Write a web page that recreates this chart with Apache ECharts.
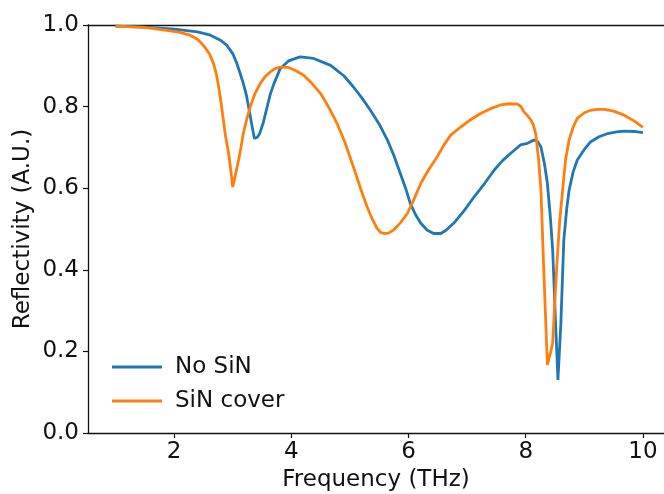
<!DOCTYPE html>
<html>
<head>
<meta charset="utf-8">
<script src="https://cdn.jsdelivr.net/npm/echarts@6.0.0/dist/echarts.min.js"></script>
<style>
html,body{margin:0;padding:0;background:#fff;}
#chart{width:664px;height:494px;}
</style>
</head>
<body>
<div id="chart"></div>
<script>
const seriesNames = ['No SiN', 'SiN cover'];
const xTicks = [2, 4, 6, 8, 10];
const yTicks = [0.0, 0.2, 0.4, 0.6, 0.8, 1.0];

const noSiNFreq = [1.0, 1.5, 2.0, 2.4, 2.62, 2.8, 2.9, 3.0, 3.07, 3.13, 3.18, 3.23, 3.27, 3.32, 3.37, 3.42, 3.46, 3.52, 3.58, 3.64, 3.70, 3.81, 3.95, 4.15, 4.38, 4.67, 4.9, 5.06, 5.2, 5.35, 5.5, 5.64, 5.75, 5.86, 5.95, 6.03, 6.12, 6.21, 6.32, 6.43, 6.55, 6.64, 6.77, 6.95, 7.12, 7.3, 7.46, 7.6, 7.74, 7.91, 8.03, 8.14, 8.2, 8.26, 8.32, 8.37, 8.42, 8.46, 8.51, 8.55, 8.60, 8.65, 8.70, 8.74, 8.81, 8.88, 9.0, 9.11, 9.25, 9.40, 9.55, 9.68, 9.85, 10.0];
const noSiNRefl = [0.997, 0.995, 0.990, 0.983, 0.975, 0.962, 0.950, 0.930, 0.906, 0.88, 0.857, 0.83, 0.80, 0.76, 0.722, 0.725, 0.734, 0.76, 0.795, 0.83, 0.855, 0.893, 0.912, 0.922, 0.918, 0.901, 0.875, 0.848, 0.822, 0.791, 0.757, 0.718, 0.68, 0.636, 0.60, 0.563, 0.535, 0.514, 0.497, 0.489, 0.489, 0.497, 0.514, 0.545, 0.579, 0.612, 0.644, 0.667, 0.685, 0.706, 0.710, 0.718, 0.715, 0.701, 0.66, 0.612, 0.53, 0.449, 0.269, 0.130, 0.269, 0.473, 0.55, 0.595, 0.64, 0.669, 0.695, 0.714, 0.726, 0.734, 0.738, 0.740, 0.739, 0.736];

const sinFreq = [1.0, 1.5, 1.87, 2.1, 2.27, 2.4, 2.5, 2.6, 2.67, 2.72, 2.76, 2.8, 2.84, 2.88, 2.93, 2.97, 3.00, 3.05, 3.10, 3.14, 3.18, 3.24, 3.30, 3.38, 3.47, 3.55, 3.64, 3.72, 3.81, 3.95, 4.08, 4.21, 4.35, 4.50, 4.64, 4.78, 4.92, 5.06, 5.18, 5.29, 5.38, 5.46, 5.52, 5.58, 5.66, 5.75, 5.86, 5.98, 6.1, 6.21, 6.35, 6.49, 6.6, 6.72, 6.89, 7.05, 7.23, 7.4, 7.57, 7.72, 7.86, 7.92, 7.97, 8.03, 8.09, 8.13, 8.17, 8.22, 8.26, 8.31, 8.34, 8.37, 8.42, 8.46, 8.50, 8.54, 8.58, 8.63, 8.68, 8.74, 8.81, 8.88, 9.0, 9.11, 9.22, 9.34, 9.5, 9.68, 9.85, 10.0];
const sinRefl = [0.997, 0.994, 0.987, 0.982, 0.975, 0.965, 0.950, 0.930, 0.906, 0.88, 0.848, 0.81, 0.767, 0.725, 0.685, 0.64, 0.603, 0.635, 0.669, 0.70, 0.734, 0.77, 0.80, 0.832, 0.857, 0.873, 0.885, 0.893, 0.897, 0.896, 0.888, 0.877, 0.857, 0.832, 0.798, 0.759, 0.71, 0.652, 0.60, 0.555, 0.525, 0.502, 0.492, 0.489, 0.490, 0.498, 0.515, 0.538, 0.575, 0.612, 0.647, 0.677, 0.705, 0.730, 0.750, 0.767, 0.783, 0.795, 0.804, 0.807, 0.806, 0.800, 0.787, 0.778, 0.767, 0.755, 0.734, 0.67, 0.595, 0.392, 0.28, 0.167, 0.195, 0.220, 0.33, 0.432, 0.52, 0.595, 0.67, 0.718, 0.75, 0.771, 0.785, 0.791, 0.793, 0.793, 0.789, 0.779, 0.765, 0.749];

const FONT = 'DejaVu Sans';
const FS = 23;
const zip = (a, b) => a.map((v, i) => [v, b[i]]);

const chart = echarts.init(document.getElementById('chart'), null, {renderer: 'canvas'});
chart.setOption({
  animation: false,
  backgroundColor: '#fff',
  textStyle: {fontFamily: FONT},
  grid: {left: 88, top: 25, right: 0, bottom: 61, show: false, containLabel: false, outerBoundsMode: 'none'},
  legend: {
    orient: 'vertical', left: 107, top: 350,
    icon: 'rect', itemWidth: 50, itemHeight: 3, itemGap: 10,
    data: seriesNames,
    textStyle: {fontFamily: FONT, fontSize: FS, color: '#111', lineHeight: 24, padding: [0, 0, 0, 8]}
  },
  xAxis: [{
    type: 'value', min: 0.53, max: 10.36,
    name: 'Frequency (THz)', nameLocation: 'middle', nameGap: 36, nameMoveOverlap: false,
    nameTextStyle: {fontFamily: FONT, fontSize: FS, color: '#111'},
    axisLine: {show: true, onZero: false, lineStyle: {color: '#111', width: 1.3}},
    axisTick: {show: true, length: 5, customValues: xTicks, lineStyle: {color: '#111', width: 1.2}},
    axisLabel: {customValues: xTicks, fontFamily: FONT, fontSize: FS, color: '#111', margin: 8},
    splitLine: {show: false}
  }, {
    type: 'value', position: 'top', min: 0.53, max: 10.36,
    axisLine: {show: true, onZero: false, lineStyle: {color: '#111', width: 1.3}},
    axisTick: {show: false}, axisLabel: {show: false}, splitLine: {show: false}
  }],
  yAxis: {
    type: 'value', min: 0, max: 1, interval: 0.2,
    name: 'Reflectivity (A.U.)', nameLocation: 'middle', nameGap: 53, nameMoveOverlap: false,
    nameTextStyle: {fontFamily: FONT, fontSize: FS, color: '#111'},
    axisLine: {show: true, lineStyle: {color: '#111', width: 1.3}},
    axisTick: {show: true, length: 5, lineStyle: {color: '#111', width: 1.2}},
    axisLabel: {fontFamily: FONT, fontSize: FS, color: '#111', margin: 9, formatter: v => v.toFixed(1)},
    splitLine: {show: false}
  },
  series: [
    {name: seriesNames[0], type: 'line', data: zip(noSiNFreq, noSiNRefl), showSymbol: false, symbol: 'none',
     lineStyle: {color: '#1f77b4', width: 2.8}, itemStyle: {color: '#1f77b4'}, z: 2},
    {name: seriesNames[1], type: 'line', data: zip(sinFreq, sinRefl), showSymbol: false, symbol: 'none',
     lineStyle: {color: '#ff7f0e', width: 2.8}, itemStyle: {color: '#ff7f0e'}, z: 3}
  ]
});
</script>
</body>
</html>
